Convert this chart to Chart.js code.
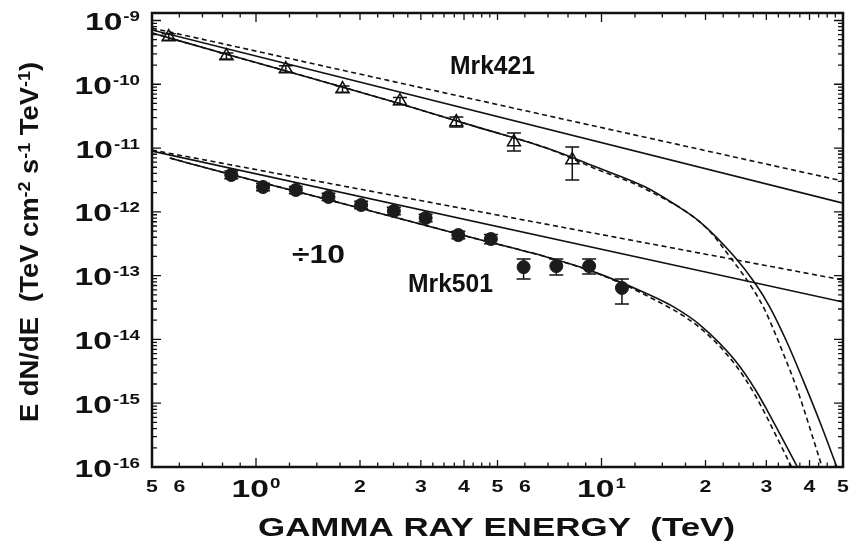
<!DOCTYPE html>
<html lang="en">
<head>
<meta charset="UTF-8">
<title>Mrk421 / Mrk501 spectra</title>
<script src="https://cdn.jsdelivr.net/npm/chart.js@4.4.0/dist/chart.umd.js"></script>
<style>
  html, body { margin: 0; padding: 0; background: #fff; }
  #c { display: block; }
</style>
</head>
<body>
<canvas id="c" width="852" height="546"></canvas>
<script>
// ---- data (energy in TeV, E dN/dE in TeV cm^-2 s^-1 TeV^-1) ----
const mrk421E    = [0.559, 0.821, 1.22, 1.78, 2.61, 3.80, 5.58, 8.23];
const mrk421Flux = [5.50e-10, 2.77e-10, 1.73e-10, 8.42e-11, 5.46e-11, 2.56e-11, 1.24e-11, 6.49e-12];
const mrk421Hi   = [6.2e-10, 3.1e-10, 1.95e-10, 9.4e-11, 6.2e-11, 3.06e-11, 1.72e-11, 1.04e-11];
const mrk421Lo   = [4.9e-10, 2.5e-10, 1.55e-10, 7.5e-11, 4.8e-11, 2.13e-11, 8.97e-12, 3.15e-12];

const mrk501E    = [0.848, 1.048, 1.304, 1.621, 2.015, 2.506, 3.097, 3.851, 4.785, 5.95, 7.40, 9.21, 11.46];
const mrk501Flux = [3.78e-12, 2.45e-12, 2.20e-12, 1.71e-12, 1.28e-12, 1.03e-12, 8.00e-13, 4.32e-13, 3.75e-13, 1.36e-13, 1.41e-13, 1.41e-13, 6.40e-14];
const mrk501Hi   = [4.35e-12, 2.8e-12, 2.5e-12, 1.95e-12, 1.46e-12, 1.18e-12, 9.2e-13, 4.95e-13, 4.4e-13, 1.82e-13, 1.83e-13, 1.83e-13, 8.85e-14];
const mrk501Lo   = [3.3e-12, 2.15e-12, 1.92e-12, 1.5e-12, 1.12e-12, 0.9e-12, 7.0e-13, 3.78e-13, 3.15e-13, 8.85e-14, 1.02e-13, 1.06e-13, 3.59e-14];

// power laws (straight lines)
const pl421SolidE  = [0.5, 50];
const pl421SolidF  = [7.08e-10, 1.37e-12];
const pl421DashE   = [0.5, 50];
const pl421DashF   = [7.60e-10, 3.04e-12];
const pl501SolidE  = [0.5, 50];
const pl501SolidF  = [8.97e-12, 3.85e-14];
const pl501DashE   = [0.5, 50];
const pl501DashF   = [9.31e-12, 8.53e-14];

// absorbed spectra (curved)
const cut421SolidE = [0.5, 0.837, 1.517, 2.57, 4.37, 6.93, 9.65, 13.4, 16.4, 19.3, 24.3, 27.8, 30.7, 34.5, 38.6, 43.2, 48.0];
const cut421SolidF = [6.36e-10, 2.87e-10, 1.16e-10, 5.07e-11, 2.13e-11, 1.00e-11, 5.04e-12, 2.45e-12, 1.28e-12, 6.92e-13, 1.96e-13, 7.66e-14, 3.22e-14, 8.80e-15, 2.08e-15, 4.55e-16, 1e-16];
const cut421DashE  = [0.5, 0.837, 1.517, 2.57, 4.37, 6.93, 9.65, 13.4, 20.0, 23.9, 27.2, 29.7, 33.9, 36.9, 43.5];
const cut421DashF  = [6.36e-10, 2.87e-10, 1.16e-10, 5.07e-11, 2.13e-11, 1.00e-11, 4.69e-12, 2.28e-12, 5.78e-13, 1.76e-13, 6.62e-14, 2.89e-14, 5.30e-15, 1.61e-15, 1e-16];
const cut501SolidE = [0.563, 0.837, 1.33, 2.57, 4.37, 6.93, 9.21, 13.4, 16.4, 19.3, 24.3, 27.8, 31.7, 36.9];
const cut501SolidF = [6.97e-12, 3.91e-12, 2.04e-12, 8.00e-13, 3.75e-13, 1.96e-13, 1.22e-13, 5.33e-14, 3.10e-14, 1.68e-14, 4.75e-15, 1.67e-15, 4.72e-16, 1e-16];
const cut501DashE  = [0.563, 0.837, 1.33, 2.57, 4.37, 6.93, 9.65, 13.4, 19.3, 24.3, 27.8, 35.5];
const cut501DashF  = [6.97e-12, 3.91e-12, 2.04e-12, 8.00e-13, 3.75e-13, 1.96e-13, 1.10e-13, 4.97e-14, 1.51e-14, 4.11e-15, 1.35e-15, 1e-16];

// axis ticks
const yDecades      = [1e-16, 1e-15, 1e-14, 1e-13, 1e-12, 1e-11, 1e-10, 1e-9];
const yDecadeLabels = ['-16', '-15', '-14', '-13', '-12', '-11', '-10', '-9'];
const yMinorMult    = [2, 3, 4, 5, 6, 7, 8, 9];
const xMajorTicks   = [1, 10];
const xMajorLabels  = ['0', '1'];
const xMidTicks     = [2, 3, 4, 5, 20, 30, 40];
const xNumTicks     = [0.5, 0.6, 2, 3, 4, 5, 6, 20, 30, 40, 50];
const xNumLabels    = ['5', '6', '2', '3', '4', '5', '6', '2', '3', '4', '5'];
const xMinorTicks   = [0.6, 0.7, 0.8, 0.9, 1.25, 1.5, 1.75, 2.25, 2.5, 2.75, 3.25, 3.5, 3.75,
                       4.25, 4.5, 4.75, 6, 7, 8, 9, 12.5, 15, 17.5, 22.5, 25, 27.5,
                       32.5, 35, 37.5, 42.5, 45, 47.5];

const INK = '#111';
const BASE_SX = 1.4;   // tick label glyphs are drawn wide in the original
const SUP_SX = 1.25;

function pts(xs, ys) { return xs.map((x, i) => ({ x: x, y: ys[i] })); }

function lineSet(xs, ys, dashed, curved) {
    return {
        data: pts(xs, ys), showLine: true, pointRadius: 0, fill: false,
        borderColor: INK, borderWidth: 1.6, borderDash: dashed ? [5, 3.5] : [],
        cubicInterpolationMode: curved ? 'monotone' : 'default',
        tension: curved ? 0.4 : 0
    };
}

function font(size) { return 'bold ' + size + 'px "Liberation Sans", Arial, Helvetica, sans-serif'; }
function textWidth(ctx, str, size) { ctx.font = font(size); return ctx.measureText(str).width; }
function drawScaled(ctx, str, x, y, size, sx) {
    ctx.save();
    ctx.font = font(size);
    ctx.translate(x, y);
    ctx.scale(sx, 1);
    ctx.textAlign = 'left';
    ctx.textBaseline = 'alphabetic';
    ctx.fillText(str, 0, 0);
    ctx.restore();
}
function drawFit(ctx, str, left, base, size, width) {
    drawScaled(ctx, str, left, base, size, width / textWidth(ctx, str, size));
}
function drawPow(ctx, exp, x, y, align) {
    const bw = textWidth(ctx, '10', 24) * BASE_SX;
    const sw = textWidth(ctx, exp, 15) * SUP_SX;
    const total = bw + 1 + sw;
    const left = align === 'right' ? x - total : x - total / 2;
    drawScaled(ctx, '10', left, y, 24, BASE_SX);
    drawScaled(ctx, exp, left + bw + 1, y - 9, 15, SUP_SX);
}

const frame = {
    id: 'frame',
    beforeDatasetsDraw(chart) {
        const ctx = chart.ctx, xs = chart.scales.x, ys = chart.scales.y;
        const bars = [[mrk421E, mrk421Hi, mrk421Lo], [mrk501E, mrk501Hi, mrk501Lo]];
        ctx.save();
        ctx.strokeStyle = INK;
        ctx.lineWidth = 1.5;
        bars.forEach(function (b) {
            b[0].forEach(function (e, i) {
                const px = xs.getPixelForValue(e);
                const yh = ys.getPixelForValue(b[1][i]);
                const yl = ys.getPixelForValue(b[2][i]);
                ctx.beginPath();
                ctx.moveTo(px, yh); ctx.lineTo(px, yl);
                ctx.moveTo(px - 7, yh); ctx.lineTo(px + 7, yh);
                ctx.moveTo(px - 7, yl); ctx.lineTo(px + 7, yl);
                ctx.stroke();
            });
        });
        ctx.restore();
    },
    afterDraw(chart) {
        const ctx = chart.ctx, xs = chart.scales.x, ys = chart.scales.y;
        const a = chart.chartArea;
        ctx.save();
        ctx.strokeStyle = INK;
        ctx.fillStyle = INK;

        // ticks, mirrored on all four sides, pointing inward
        ctx.lineWidth = 1.3;
        ctx.beginPath();
        function tickX(v, len) {
            const px = xs.getPixelForValue(v);
            ctx.moveTo(px, a.bottom); ctx.lineTo(px, a.bottom - len);
            ctx.moveTo(px, a.top); ctx.lineTo(px, a.top + len);
        }
        function tickY(v, len) {
            const py = ys.getPixelForValue(v);
            ctx.moveTo(a.left, py); ctx.lineTo(a.left + len, py);
            ctx.moveTo(a.right, py); ctx.lineTo(a.right - len, py);
        }
        xMinorTicks.forEach(v => tickX(v, 4.5));
        xMidTicks.forEach(v => tickX(v, 7));
        xMajorTicks.forEach(v => tickX(v, 9));
        yDecades.forEach(function (d) {
            tickY(d, 9);
            yMinorMult.forEach(function (m) {
                const v = m * d;
                if (v < ys.min || v > ys.max) return;
                tickY(v, 5);
            });
        });
        ctx.stroke();

        // frame
        ctx.lineWidth = 2.5;
        ctx.strokeRect(a.left, a.top, a.right - a.left, a.bottom - a.top);

        // y tick labels
        yDecades.forEach(function (d, i) {
            drawPow(ctx, yDecadeLabels[i], 140, ys.getPixelForValue(d) + 9.5, 'right');
        });
        // x tick labels
        xMajorTicks.forEach(function (v, i) {
            drawPow(ctx, xMajorLabels[i], xs.getPixelForValue(v), 497, 'center');
        });
        xNumTicks.forEach(function (v, i) {
            const w = textWidth(ctx, xNumLabels[i], 17) * 1.25;
            drawScaled(ctx, xNumLabels[i], xs.getPixelForValue(v) - w / 2, 492, 17, 1.25);
        });

        // axis titles
        drawFit(ctx, 'GAMMA RAY ENERGY  (TeV)', 258, 536, 25, 477);

        ctx.save();
        ctx.translate(38, 242);
        ctx.rotate(-Math.PI / 2);
        const segs = [['E dN/dE  (TeV cm', 0], ['-2', 1], [' s', 0], ['-1', 1], [' TeV', 0], ['-1', 1], [')', 0]];
        let natural = 0;
        segs.forEach(s => { natural += textWidth(ctx, s[0], s[1] ? 17 : 26); });
        const k = 360 / natural;
        let cx = -natural * k / 2;
        segs.forEach(function (s) {
            const size = s[1] ? 17 : 26;
            const w = textWidth(ctx, s[0], size);
            drawScaled(ctx, s[0], cx, s[1] ? -8 : 0, size, k);
            cx += w * k;
        });
        ctx.restore();

        // annotations
        drawFit(ctx, 'Mrk421', 450, 74, 26, 85);
        drawFit(ctx, 'Mrk501', 408, 292, 26, 85);
        drawFit(ctx, '\u00f710', 292, 263, 26, 53);

        ctx.restore();
    }
};

new Chart(document.getElementById('c').getContext('2d'), {
    type: 'scatter',
    data: {
        datasets: [
            {
                label: 'Mrk421', data: pts(mrk421E, mrk421Flux), showLine: false,
                pointStyle: 'triangle', pointRadius: 7.5, pointBorderWidth: 1.5,
                borderColor: INK, backgroundColor: 'rgba(0,0,0,0)'
            },
            {
                label: 'Mrk501 (/10)', data: pts(mrk501E, mrk501Flux), showLine: false,
                pointStyle: 'circle', pointRadius: 6.5, pointBorderWidth: 1,
                borderColor: '#1c1c1c', backgroundColor: '#1c1c1c'
            },
            lineSet(pl421SolidE, pl421SolidF, false, false),
            lineSet(pl421DashE, pl421DashF, true, false),
            lineSet(cut421SolidE, cut421SolidF, false, true),
            lineSet(cut421DashE, cut421DashF, true, true),
            lineSet(pl501SolidE, pl501SolidF, false, false),
            lineSet(pl501DashE, pl501DashF, true, false),
            lineSet(cut501SolidE, cut501SolidF, false, true),
            lineSet(cut501DashE, cut501DashF, true, true)
        ]
    },
    options: {
        responsive: false,
        animation: false,
        layout: { padding: { left: 152, right: 3, top: 13, bottom: 79 } },
        plugins: { legend: { display: false }, tooltip: { enabled: false } },
        scales: {
            x: { type: 'logarithmic', min: 0.5, max: 50, display: false },
            y: { type: 'logarithmic', min: 1e-16, max: 1.31e-9, display: false }
        }
    },
    plugins: [frame]
});
</script>
</body>
</html>
